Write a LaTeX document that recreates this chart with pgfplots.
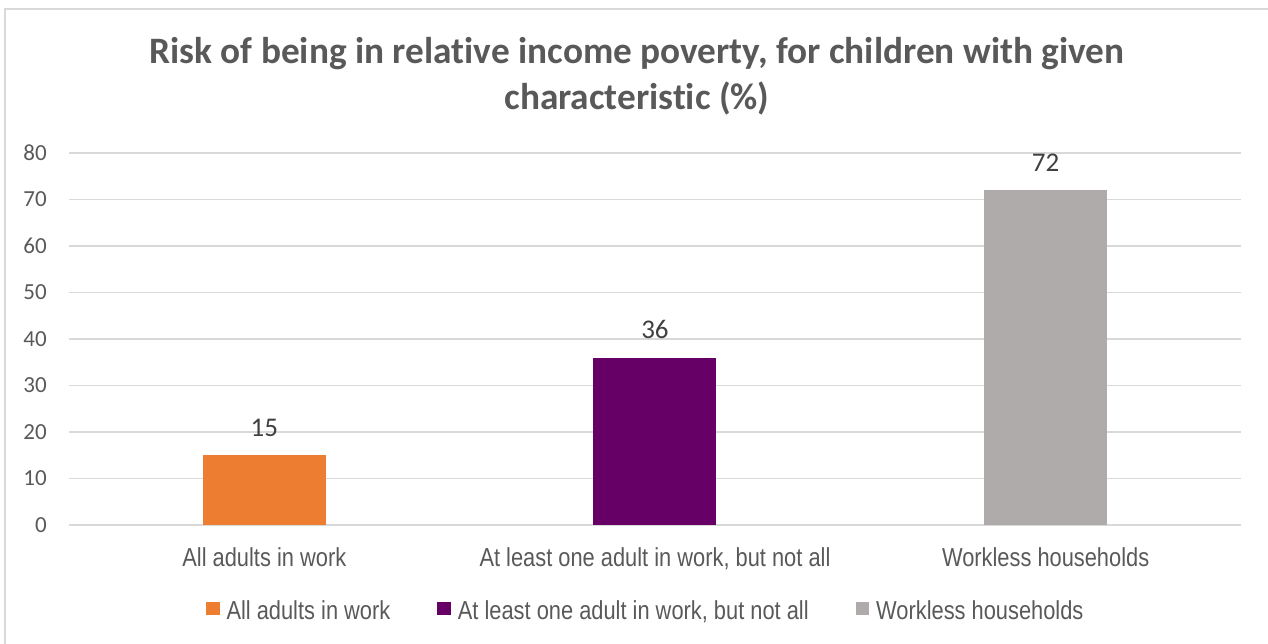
\documentclass[border=0pt]{standalone}
\usepackage{fontspec}
\usepackage{pgfplots}
\pgfplotsset{compat=1.18}
\setmainfont{Carlito}[Ligatures=NoCommon]
\newfontfamily\narrowfont[FakeStretch=0.84]{Liberation Sans}

\definecolor{txt}{HTML}{595959}
\definecolor{lbl}{HTML}{404040}
\definecolor{gridc}{HTML}{D9D9D9}
\definecolor{barA}{HTML}{ED7D31}
\definecolor{barB}{HTML}{660066}
\definecolor{barC}{HTML}{AFABAB}

\pgfplotsset{
  sqlegend/.style={legend image code/.code={\fill[##1] (0pt,-4.5pt) rectangle (13.5pt,8.5pt);}},
}

\begin{document}
\begin{tikzpicture}[x=1pt,y=1pt]
\useasboundingbox (0,0) rectangle (1268,644);
\draw[gridc, line width=1.5pt] (5,0) -- (5,635) -- (1268,635);
\node[anchor=base, text=txt, font=\fontsize{37.3}{43}\selectfont\bfseries] at (637,580)
  {Risk of being in relative income poverty, for children with given};
\node[anchor=base, text=txt, font=\fontsize{37.3}{43}\selectfont\bfseries] at (637,534)
  {characteristic (\%)};
\begin{axis}[
  at={(69pt,119pt)}, anchor=south west,
  scale only axis, width=1172pt, height=372pt,
  xmin=-0.5, xmax=2.5, ymin=0, ymax=80,
  ytick={0,10,...,80},
  xtick={0,1,2},
  xticklabels={{All adults in work},{At least one adult in work, but not all},{Workless households}},
  ymajorgrids,
  grid style={gridc, line width=1.5pt},
  axis line style={draw=none},
  major tick length=0pt,
  /pgf/number format/assume math mode=true,
  yticklabel style={anchor=east, inner sep=0pt, xshift=-22pt, text=txt, font=\fontsize{23}{27}\selectfont},
  xticklabel style={anchor=base, yshift=-42pt, text=txt, font=\narrowfont\fontsize{26}{30}\selectfont},
  ybar, bar width=123pt, bar shift=0pt,
  nodes near coords,
  every node near coord/.append style={anchor=base, yshift=19pt, text=lbl, font=\fontsize{27}{32}\selectfont},
  clip=false,
  legend columns=3,
  legend style={draw=none, fill=none, at={(axis description cs:0.1169,-0.2306)}, anchor=west,
    inner sep=0pt, outer sep=0pt, font=\narrowfont\fontsize{26}{30}\selectfont, text=txt,
    nodes={inner sep=0pt},
    /tikz/every odd column/.append style={column sep=7pt},
    /tikz/every even column/.append style={column sep=47pt}},
]
\addplot[fill=barA, draw=none, sqlegend] coordinates {(0,15)};
\addlegendentry{All adults in work}
\addplot[fill=barB, draw=none, sqlegend] coordinates {(1,36)};
\addlegendentry{At least one adult in work, but not all}
\addplot[fill=barC, draw=none, sqlegend] coordinates {(2,72)};
\addlegendentry{Workless households}
\end{axis}
\end{tikzpicture}
\end{document}
